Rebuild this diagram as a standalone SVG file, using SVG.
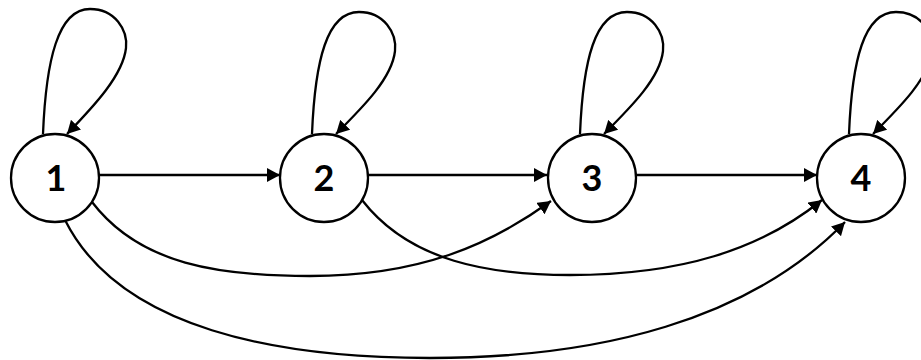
<svg xmlns="http://www.w3.org/2000/svg" width="921" height="360" viewBox="0 0 921 360">
<style>
.node circle{fill:#fff;stroke:#000;stroke-width:2.3}
.node text{font-family:Lato,"Liberation Sans",sans-serif;font-size:36px;font-weight:bold;text-anchor:middle;fill:#000}
.edge{fill:none;stroke:#000;stroke-width:2.3;marker-end:url(#ah)}
</style>
<defs>
<marker id="ah" markerUnits="userSpaceOnUse" markerWidth="14" markerHeight="14" refX="13" refY="7" orient="auto" viewBox="0 0 14 14">
<path d="M0,0 L13,7 L0,14 z" fill="#000"/>
</marker>
</defs>
<g id="connectors">
<path class="edge" d="M99,175 L280,175"/>
<path class="edge" d="M368,175 L547,175"/>
<path class="edge" d="M636,175 L817,175"/>
<path class="edge" d="M43,134 C46,60 58,9 90,9 C115,9 128,30 126,48 C123,75 95,105 67,134"/>
<path class="edge" d="M312,134 C315,60 327,12 359,12 C384,12 397,33 395,51 C392,78 364,106 336,134"/>
<path class="edge" d="M580,134 C583,60 595,12 627,12 C652,12 665,33 663,51 C660,78 632,106 604,134"/>
<path class="edge" d="M849,134 C852,60 864,12 896,12 C921,12 934,33 932,51 C929,78 901,106 873,134"/>
<path class="edge" d="M92,202 C140,265 220,276 310,276 C420,276 490,245 551,201"/>
<path class="edge" d="M362,200 C410,262 490,275 570,275 C680,275 760,250 822,200"/>
<path class="edge" d="M65,220 C120,330 280,358 430,358 C600,358 750,320 845,222"/>
</g>
<g id="node1" class="node"><circle cx="55" cy="178" r="44"/><text x="56" y="191">1</text></g>
<g id="node2" class="node"><circle cx="324" cy="178" r="44"/><text x="324" y="191">2</text></g>
<g id="node3" class="node"><circle cx="592" cy="178" r="44"/><text x="592" y="191">3</text></g>
<g id="node4" class="node"><circle cx="861" cy="178" r="44"/><text x="861" y="191">4</text></g>
</svg>
